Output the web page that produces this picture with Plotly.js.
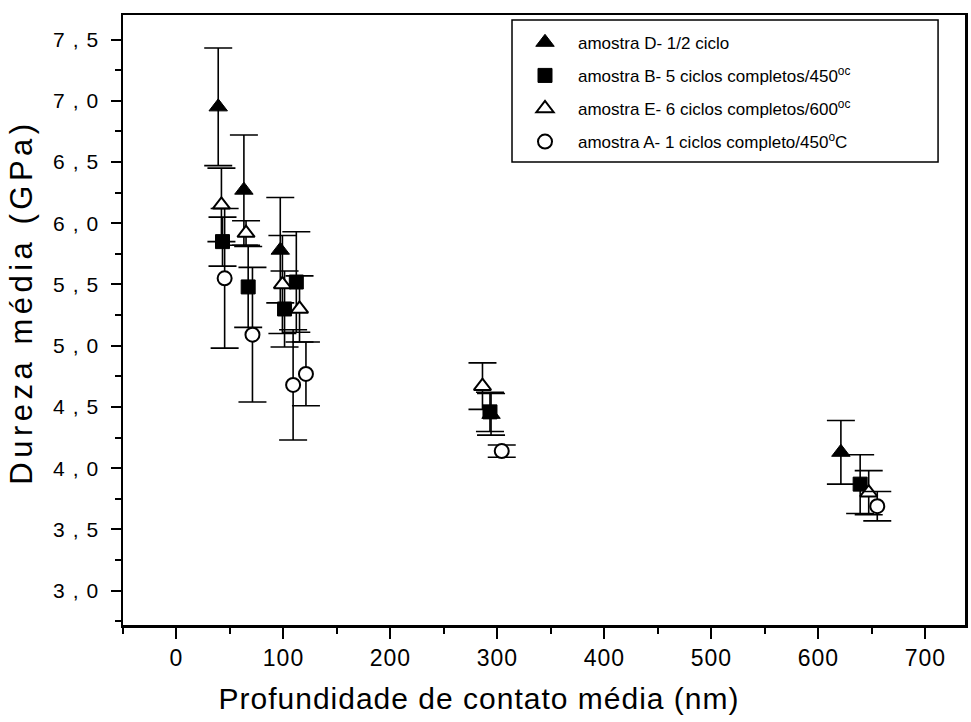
<!DOCTYPE html>
<html>
<head>
<meta charset="utf-8">
<script src="https://cdn.plot.ly/plotly-3.0.1.min.js"></script>
<style>
html,body{margin:0;padding:0;background:#fff;}
#chart{width:971px;height:722px;}
#chart .ytick text{letter-spacing:8px;}
#chart .g-ytitle text{letter-spacing:4.5px;}
#chart .g-ytitle{transform:translate(-29px,-18px);}
#chart .g-xtitle text{letter-spacing:1px;}
#chart .g-xtitle{transform:translate(-65px,4px);}
#chart .xtick text{letter-spacing:1px;}
</style>
</head>
<body>
<div id="chart"></div>
<script>
// Sample D - 1/2 ciclo (filled triangle)
const dX = [39, 63, 97, 294, 621];
const dY = [6.95, 6.27, 5.78, 4.44, 4.13];
const dErr = [0.48, 0.45, 0.43, 0.17, 0.26];
// Sample B - 5 ciclos completos/450 (filled square)
const bX = [43, 67, 101, 112, 293, 639];
const bY = [5.85, 5.48, 5.30, 5.52, 4.46, 3.87];
const bErr = [0.20, 0.33, 0.31, 0.41, 0.16, 0.24];
// Sample E - 6 ciclos completos/600 (open triangle)
const eX = [42, 65, 99, 115, 286, 647];
const eY = [6.15, 5.92, 5.50, 5.30, 4.67, 3.80];
const eErr = [0.30, 0.10, 0.40, 0.27, 0.19, 0.18];
// Sample A - 1 ciclos completo/450C (open circle)
const aX = [45, 71, 109, 121, 304, 655];
const aY = [5.55, 5.09, 4.68, 4.77, 4.14, 3.69];
const aErr = [0.57, 0.55, 0.45, 0.26, 0.05, 0.12];

const names = [
  'amostra D- 1/2 ciclo',
  'amostra B- 5 ciclos completos/450<sup>oc</sup>',
  'amostra E- 6 ciclos completos/600<sup>oc</sup>',
  'amostra A- 1 ciclos completo/450<sup>o</sup>C'
];

function errBar(arr) {
  return {type: 'data', array: arr, visible: true, color: '#000', thickness: 1.6, width: 14};
}

const traces = [
  {x: dX, y: dY, error_y: errBar(dErr), name: names[0], legendgroup: 'g1',
   mode: 'markers', type: 'scatter',
   marker: {symbol: 'triangle-up', size: 16, color: '#000', line: {color: '#000', width: 1}}},
  {x: bX, y: bY, error_y: errBar(bErr), name: names[1], legendgroup: 'g2',
   mode: 'markers', type: 'scatter',
   marker: {symbol: 'square', size: 14, color: '#000', line: {color: '#000', width: 1}}},
  {x: eX, y: eY, error_y: errBar(eErr), name: names[2], legendgroup: 'g3',
   mode: 'markers', type: 'scatter',
   marker: {symbol: 'triangle-up', size: 15, color: '#fff', line: {color: '#000', width: 2}}},
  {x: aX, y: aY, error_y: errBar(aErr), name: names[3], legendgroup: 'g4',
   mode: 'markers', type: 'scatter',
   marker: {symbol: 'circle', size: 14, color: '#fff', line: {color: '#000', width: 2}}}
];

const layout = {
  width: 971, height: 722,
  margin: {l: 123, r: 6, t: 15, b: 97},
  paper_bgcolor: '#fff', plot_bgcolor: '#fff',
  separators: ',.',
  font: {family: 'Liberation Sans, Arial, sans-serif', color: '#000'},
  showlegend: true,
  legend: {
    x: 0.462, y: 0.984, xanchor: 'left', yanchor: 'top',
    bgcolor: 'rgba(0,0,0,0)', borderwidth: 0,
    font: {size: 17, family: 'Liberation Sans, Arial, sans-serif'},
    tracegroupgap: 8, itemsizing: 'trace', itemwidth: 56
  },
  shapes: [{
    type: 'rect', xref: 'paper', yref: 'paper',
    x0: 0.462, x1: 0.968, y0: 0.759, y1: 0.992,
    line: {color: '#000', width: 1.5}, fillcolor: 'rgba(0,0,0,0)', layer: 'above'
  }],
  xaxis: {
    range: [-50, 737], tickmode: 'linear', tick0: 0, dtick: 100,
    ticks: 'outside', ticklen: 11, tickwidth: 2, tickcolor: '#000',
    minor: {ticks: 'outside', dtick: 50, tick0: 0, ticklen: 6, tickwidth: 2, tickcolor: '#000'},
    showline: true, linewidth: 2.5, linecolor: '#000', mirror: true,
    showgrid: false, zeroline: false,
    tickfont: {size: 23},
    title: {text: 'Profundidade de contato média (nm)', font: {size: 30}, standoff: 14}
  },
  yaxis: {
    range: [2.72, 7.70], tickmode: 'linear', tick0: 3, dtick: 0.5, tickformat: '.1f',
    ticks: 'outside', ticklen: 10, tickwidth: 2, tickcolor: '#000',
    minor: {ticks: 'outside', dtick: 0.25, tick0: 3, ticklen: 6, tickwidth: 2, tickcolor: '#000'},
    showline: true, linewidth: 2.5, linecolor: '#000', mirror: true,
    showgrid: false, zeroline: false,
    tickfont: {size: 21},
    title: {text: 'Dureza média (GPa)', font: {size: 31}, standoff: 6}
  }
};

Plotly.newPlot('chart', traces, layout, {displayModeBar: false, staticPlot: true});
</script>
</body>
</html>
